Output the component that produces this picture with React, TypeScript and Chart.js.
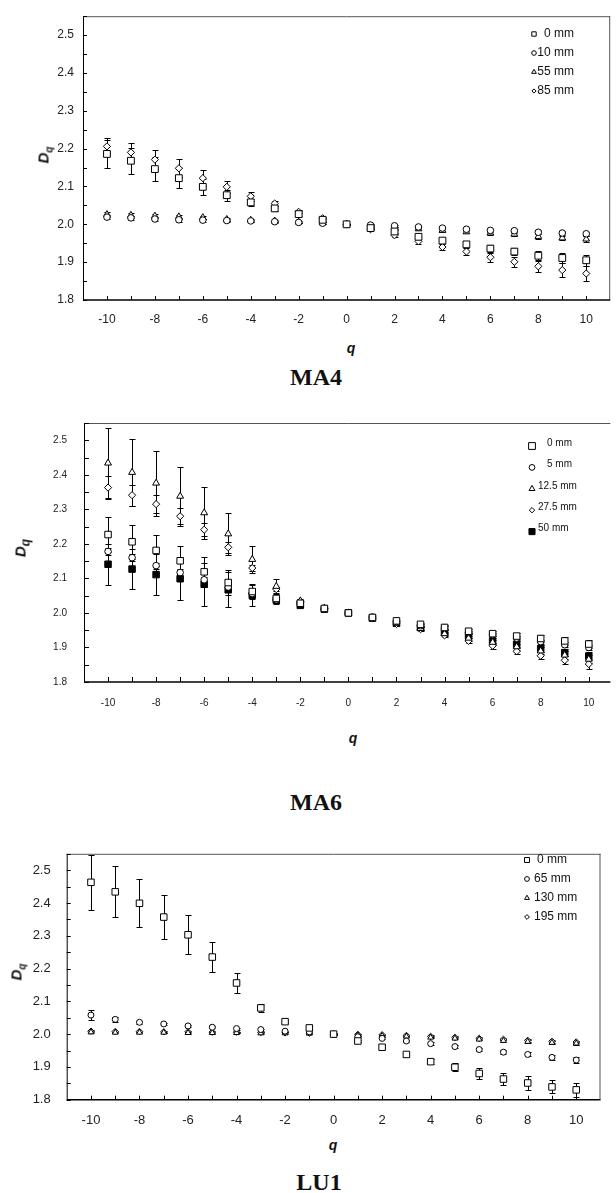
import React, { useEffect, useRef } from "react";
import { Chart, registerables } from "chart.js";

Chart.register(...registerables);

// ---------- data ----------
const Q = [-10, -9, -8, -7, -6, -5, -4, -3, -2, -1, 0, 1, 2, 3, 4, 5, 6, 7, 8, 9, 10];
const X_TICKS = [-10, -8, -6, -4, -2, 0, 2, 4, 6, 8, 10];
const Y_TICKS = [1.8, 1.9, 2.0, 2.1, 2.2, 2.3, 2.4, 2.5];

// MA4
const MA4_LABELS = ["0 mm", "10 mm", "55 mm", "85 mm"];
const MA4_0MM = [2.186, 2.168, 2.146, 2.122, 2.099, 2.077, 2.058, 2.042, 2.027, 2.012, 2.0, 1.99, 1.981, 1.967, 1.957, 1.947, 1.936, 1.928, 1.917, 1.911, 1.905];
const MA4_0MM_ERR = [0.038, 0.035, 0.031, 0.026, 0.021, 0.015, 0.01, 0.006, 0.004, 0.003, 0.002, 0.003, 0.004, 0.006, 0.007, 0.008, 0.009, 0.01, 0.012, 0.013, 0.014];
const MA4_10MM = [2.019, 2.017, 2.014, 2.012, 2.011, 2.01, 2.009, 2.007, 2.005, 2.003, 2.0, 1.998, 1.996, 1.993, 1.99, 1.987, 1.984, 1.983, 1.979, 1.977, 1.975];
const MA4_10MM_ERR = [0.006, 0.006, 0.005, 0.005, 0.004, 0.004, 0.003, 0.003, 0.002, 0.002, 0.001, 0.002, 0.002, 0.003, 0.003, 0.004, 0.004, 0.005, 0.005, 0.006, 0.006];
const MA4_55MM = [2.026, 2.024, 2.022, 2.02, 2.018, 2.013, 2.011, 2.009, 2.006, 2.004, 2.0, 1.995, 1.99, 1.988, 1.984, 1.98, 1.977, 1.974, 1.968, 1.964, 1.961];
const MA4_55MM_ERR = [0.007, 0.006, 0.006, 0.005, 0.005, 0.004, 0.004, 0.003, 0.003, 0.002, 0.001, 0.002, 0.003, 0.003, 0.004, 0.004, 0.005, 0.005, 0.006, 0.006, 0.007];
const MA4_85MM = [2.206, 2.19, 2.171, 2.148, 2.122, 2.099, 2.074, 2.055, 2.033, 2.016, 2.0, 1.987, 1.971, 1.955, 1.94, 1.928, 1.913, 1.901, 1.889, 1.879, 1.87];
const MA4_85MM_ERR = [0.022, 0.026, 0.025, 0.024, 0.022, 0.016, 0.012, 0.007, 0.004, 0.003, 0.002, 0.003, 0.004, 0.006, 0.008, 0.01, 0.012, 0.013, 0.015, 0.018, 0.021];

// MA6
const MA6_LABELS = ["0 mm", "5 mm", "12.5 mm", "27.5 mm", "50 mm"];
const MA6_0MM = [2.227, 2.206, 2.181, 2.151, 2.119, 2.088, 2.062, 2.042, 2.028, 2.013, 2.0, 1.987, 1.977, 1.967, 1.958, 1.947, 1.94, 1.933, 1.926, 1.919, 1.91];
const MA6_0MM_ERR = [0.051, 0.049, 0.044, 0.043, 0.043, 0.037, 0.023, 0.012, 0.006, 0.004, 0.002, 0.003, 0.004, 0.005, 0.006, 0.007, 0.008, 0.009, 0.01, 0.011, 0.012];
const MA6_5MM = [2.178, 2.16, 2.137, 2.117, 2.096, 2.075, 2.056, 2.038, 2.026, 2.012, 2.0, 1.988, 1.975, 1.963, 1.957, 1.944, 1.937, 1.927, 1.917, 1.908, 1.9];
const MA6_5MM_ERR = [0.01, 0.01, 0.009, 0.009, 0.008, 0.007, 0.006, 0.005, 0.004, 0.003, 0.002, 0.003, 0.003, 0.004, 0.004, 0.005, 0.005, 0.006, 0.006, 0.007, 0.007];
const MA6_12_5MM = [2.434, 2.407, 2.376, 2.338, 2.29, 2.229, 2.155, 2.077, 2.035, 2.014, 2.0, 1.985, 1.97, 1.955, 1.94, 1.927, 1.915, 1.902, 1.89, 1.878, 1.866];
const MA6_12_5MM_ERR = [0.102, 0.097, 0.094, 0.085, 0.076, 0.061, 0.039, 0.02, 0.006, 0.004, 0.002, 0.003, 0.004, 0.005, 0.006, 0.007, 0.008, 0.009, 0.01, 0.011, 0.012];
const MA6_27_5MM = [2.363, 2.341, 2.315, 2.28, 2.241, 2.19, 2.13, 2.069, 2.033, 2.013, 2.0, 1.985, 1.968, 1.953, 1.935, 1.919, 1.905, 1.889, 1.876, 1.863, 1.852];
const MA6_27_5MM_ERR = [0.033, 0.03, 0.026, 0.023, 0.018, 0.015, 0.008, 0.006, 0.004, 0.003, 0.002, 0.003, 0.004, 0.005, 0.006, 0.007, 0.008, 0.009, 0.01, 0.012, 0.014];
const MA6_50MM = [2.141, 2.127, 2.111, 2.099, 2.083, 2.067, 2.051, 2.037, 2.022, 2.011, 2.0, 1.985, 1.97, 1.958, 1.946, 1.934, 1.919, 1.909, 1.897, 1.885, 1.875];
const MA6_50MM_ERR = [0.059, 0.059, 0.06, 0.062, 0.062, 0.051, 0.031, 0.012, 0.006, 0.004, 0.002, 0.003, 0.004, 0.005, 0.006, 0.007, 0.008, 0.009, 0.01, 0.011, 0.012];

// LU1
const LU1_LABELS = ["0 mm", "65 mm", "130 mm", "195 mm"];
const LU1_0MM = [2.463, 2.434, 2.399, 2.357, 2.303, 2.235, 2.156, 2.08, 2.038, 2.019, 2.0, 1.979, 1.96, 1.938, 1.916, 1.899, 1.88, 1.863, 1.851, 1.839, 1.83];
const LU1_0MM_ERR = [0.083, 0.078, 0.073, 0.067, 0.06, 0.047, 0.03, 0.011, 0.004, 0.003, 0.002, 0.003, 0.004, 0.005, 0.008, 0.012, 0.016, 0.018, 0.02, 0.02, 0.022];
const LU1_65MM = [2.058, 2.045, 2.036, 2.031, 2.025, 2.021, 2.017, 2.014, 2.009, 2.007, 2.0, 1.992, 1.987, 1.979, 1.971, 1.962, 1.953, 1.945, 1.938, 1.929, 1.921];
const LU1_65MM_ERR = [0.015, 0.007, 0.005, 0.004, 0.004, 0.003, 0.003, 0.003, 0.002, 0.002, 0.002, 0.002, 0.003, 0.003, 0.004, 0.005, 0.005, 0.006, 0.006, 0.007, 0.008];
const LU1_130MM = [2.006, 2.005, 2.005, 2.005, 2.004, 2.004, 2.004, 2.003, 2.003, 2.002, 2.0, 1.997, 1.995, 1.993, 1.99, 1.987, 1.984, 1.98, 1.977, 1.974, 1.972];
const LU1_130MM_ERR = [0.003, 0.003, 0.003, 0.003, 0.003, 0.003, 0.002, 0.002, 0.002, 0.002, 0.001, 0.002, 0.002, 0.002, 0.003, 0.003, 0.003, 0.003, 0.004, 0.004, 0.004];
const LU1_195MM = [2.009, 2.008, 2.008, 2.007, 2.007, 2.006, 2.006, 2.005, 2.004, 2.003, 2.0, 1.999, 1.998, 1.996, 1.993, 1.99, 1.987, 1.984, 1.981, 1.978, 1.976];
const LU1_195MM_ERR = [0.003, 0.003, 0.003, 0.003, 0.003, 0.003, 0.002, 0.002, 0.002, 0.002, 0.001, 0.002, 0.002, 0.002, 0.003, 0.003, 0.003, 0.003, 0.004, 0.004, 0.004];

// ---------- styling ----------
const SANS = "'Liberation Sans', Arial, sans-serif";
const SERIF = "'Liberation Serif', 'Times New Roman', serif";

function drawShape(ctx: CanvasRenderingContext2D, shape: string, x: number, y: number, r: number, filled: boolean) {
  ctx.beginPath();
  if (shape === "rect") {
    const s = r * Math.SQRT1_2;
    ctx.rect(x - s, y - s, 2 * s, 2 * s);
  } else if (shape === "circle") {
    ctx.arc(x, y, r, 0, Math.PI * 2);
  } else if (shape === "triangle") {
    ctx.moveTo(x, y - r);
    ctx.lineTo(x + r * 0.866, y + r * 0.5);
    ctx.lineTo(x - r * 0.866, y + r * 0.5);
    ctx.closePath();
  } else {
    ctx.moveTo(x, y - r);
    ctx.lineTo(x + r, y);
    ctx.lineTo(x, y + r);
    ctx.lineTo(x - r, y);
    ctx.closePath();
  }
  ctx.fillStyle = filled ? "#000" : "#fff";
  ctx.fill();
  ctx.strokeStyle = "#000";
  ctx.lineWidth = 1;
  ctx.stroke();
}

const decorPlugin = {
  id: "decor",
  beforeDatasetsDraw(chart: any, _args: any, opts: any) {
    const { ctx, chartArea: ca, scales } = chart;
    const x = scales.x;
    const y = scales.y;
    ctx.save();
    // frame
    ctx.lineWidth = 1;
    ctx.strokeStyle = "#555";
    ctx.beginPath();
    ctx.moveTo(ca.left, ca.top + 0.5);
    ctx.lineTo(ca.right, ca.top + 0.5);
    if (opts.rightBorder) {
      ctx.moveTo(ca.right - 0.5, ca.top);
      ctx.lineTo(ca.right - 0.5, ca.bottom);
    }
    ctx.stroke();
    ctx.strokeStyle = "#000";
    ctx.beginPath();
    ctx.moveTo(ca.left + 0.5, ca.top);
    ctx.lineTo(ca.left + 0.5, ca.bottom);
    ctx.stroke();
    ctx.lineWidth = 1.6;
    ctx.beginPath();
    ctx.moveTo(ca.left, ca.bottom);
    ctx.lineTo(ca.right, ca.bottom);
    ctx.stroke();
    // inner ticks
    ctx.lineWidth = 1;
    ctx.beginPath();
    for (let v = Math.ceil(x.min); v <= Math.floor(x.max); v++) {
      const px = Math.round(x.getPixelForValue(v)) + 0.5;
      if (px <= ca.left + 1 || px >= ca.right - 1) continue;
      ctx.moveTo(px, ca.bottom);
      ctx.lineTo(px, ca.bottom - opts.tickLen);
    }
    for (let k = 0; k <= 15; k++) {
      const v = 1.8 + k * 0.05;
      if (v > y.max) break;
      const py = Math.round(y.getPixelForValue(v)) + 0.5;
      ctx.moveTo(ca.left, py);
      ctx.lineTo(ca.left + opts.tickLen, py);
    }
    ctx.stroke();
    // error bars
    ctx.strokeStyle = "#000";
    ctx.lineWidth = 1;
    chart.data.datasets.forEach((ds: any) => {
      if (!ds.err) return;
      ds.data.forEach((p: any, i: number) => {
        const e = ds.err[i];
        if (!e) return;
        const px = Math.round(x.getPixelForValue(p.x)) + 0.5;
        const y1 = Math.round(y.getPixelForValue(p.y + e)) + 0.5;
        const y2 = Math.round(y.getPixelForValue(p.y - e)) + 0.5;
        ctx.beginPath();
        ctx.moveTo(px, y1);
        ctx.lineTo(px, y2);
        ctx.moveTo(px - 3, y1);
        ctx.lineTo(px + 3, y1);
        ctx.moveTo(px - 3, y2);
        ctx.lineTo(px + 3, y2);
        ctx.stroke();
      });
    });
    ctx.restore();
  },
  afterDatasetsDraw(chart: any, _args: any, opts: any) {
    const { ctx } = chart;
    const lg = opts.legend;
    ctx.save();
    chart.data.datasets.forEach((ds: any, i: number) => {
      const cy = lg.y0 + i * lg.dy;
      drawShape(ctx, ds.pointStyle === "rectRot" ? "diamond" : ds.pointStyle, lg.mx, cy, lg.mr[i], ds.pointBackgroundColor === "#000");
      ctx.fillStyle = "#111";
      ctx.font = `${lg.font}px ${SANS}`;
      ctx.textBaseline = "middle";
      ctx.textAlign = lg.align;
      const dx = lg.dx ? lg.dx[i] : 0;
      ctx.fillText(ds.label, lg.tx + dx, cy + lg.tdy);
    });
    ctx.restore();
  },
};

type Series = { label: string; values: number[]; err: number[]; shape: string; filled?: boolean; r: number };

function Panel({ cfg }: { cfg: any }) {
  const ref = useRef<HTMLCanvasElement>(null);
  useEffect(() => {
    const chart = new Chart(ref.current as HTMLCanvasElement, {
      type: "scatter",
      data: {
        datasets: cfg.series.map((s: Series) => ({
          label: s.label,
          data: Q.map((q, i) => ({ x: q, y: s.values[i] })),
          err: s.err,
          pointStyle: s.shape,
          pointRadius: s.r,
          pointHoverRadius: s.r,
          pointBackgroundColor: s.filled ? "#000" : "#fff",
          pointBorderColor: "#000",
          pointBorderWidth: 1,
          showLine: false,
        })),
      } as any,
      options: {
        responsive: false,
        animation: false,
        events: [],
        layout: { padding: { left: 0, top: cfg.padTop, right: cfg.padRight, bottom: 0 } },
        plugins: {
          legend: { display: false },
          tooltip: { enabled: false },
          decor: { rightBorder: cfg.rightBorder, tickLen: cfg.tickLen, legend: cfg.legend },
        } as any,
        scales: {
          x: {
            type: "linear",
            min: cfg.xMin,
            max: cfg.xMax,
            afterFit: (s: any) => { s.height = cfg.xAxisH; },
            afterBuildTicks: (s: any) => { s.ticks = X_TICKS.map((v) => ({ value: v })); },
            grid: { display: false, drawTicks: false },
            border: { display: false },
            ticks: {
              padding: cfg.xPad,
              autoSkip: false,
              maxRotation: 0,
              color: "#222",
              font: { family: SANS, size: cfg.tickFont },
              callback: (v: any) => String(v),
            },
          },
          y: {
            type: "linear",
            min: 1.8,
            max: 2.55,
            afterFit: (s: any) => { s.width = cfg.yAxisW; },
            afterBuildTicks: (s: any) => { s.ticks = Y_TICKS.map((v) => ({ value: v })); },
            grid: { display: false, drawTicks: false },
            border: { display: false },
            ticks: {
              padding: cfg.yPad,
              color: "#222",
              font: { family: SANS, size: cfg.tickFont },
              callback: (v: any) => Number(v).toFixed(1),
            },
          },
        },
      } as any,
      plugins: [decorPlugin as any],
    });
    return () => chart.destroy();
  }, []);
  return (
    <canvas
      ref={ref}
      width={616}
      height={cfg.h}
      style={{ position: "absolute", left: 0, top: cfg.top, width: 616, height: cfg.h }}
    />
  );
}

function Txt({ x, y, children, style }: any) {
  return (
    <div
      style={{
        position: "absolute",
        left: x,
        top: y,
        transform: "translate(-50%, -50%)",
        whiteSpace: "nowrap",
        lineHeight: 1,
        color: "#111",
        ...style,
      }}
    >
      {children}
    </div>
  );
}

function YTitle({ x, y, size, subSize }: any) {
  return (
    <div
      style={{
        position: "absolute",
        left: x,
        top: y,
        transform: "translate(-50%, -50%) rotate(-90deg)",
        whiteSpace: "nowrap",
        lineHeight: 1,
        fontFamily: SANS,
        fontWeight: "bold",
        fontStyle: "italic",
        fontSize: size,
        color: "#111",
      }}
    >
      D<sub style={{ fontSize: subSize, verticalAlign: "sub" }}>q</sub>
    </div>
  );
}

export default function App() {
  const p1 = {
    top: 0, h: 335, padTop: 8, padRight: 2, yAxisW: 83, xAxisH: 35, xMin: -11, xMax: 11,
    xPad: 12, yPad: 9, tickFont: 12, rightBorder: true, tickLen: 4,
    legend: { mx: 534, y0: 34, dy: 19, mr: [3.1, 2.3, 2.7, 2.1], tx: 574, tdy: 0, align: "right", font: 12 },
    series: [
      { label: MA4_LABELS[0], values: MA4_0MM, err: MA4_0MM_ERR, shape: "rect", r: 4.8 },
      { label: MA4_LABELS[1], values: MA4_10MM, err: MA4_10MM_ERR, shape: "circle", r: 3.3 },
      { label: MA4_LABELS[2], values: MA4_55MM, err: MA4_55MM_ERR, shape: "triangle", r: 3.9 },
      { label: MA4_LABELS[3], values: MA4_85MM, err: MA4_85MM_ERR, shape: "rectRot", r: 3.6 },
    ],
  };
  const p2 = {
    top: 400, h: 330, padTop: 12, padRight: 0, yAxisW: 84, xAxisH: 48, xMin: -11, xMax: 10.9,
    xPad: 15, yPad: 17, tickFont: 10, rightBorder: false, tickLen: 5,
    legend: { mx: 532, y0: 46, dy: 21.4, mr: [4.8, 2.9, 3.4, 2.7, 4.3], tx: 538, dx: [9, 9, 0, 0, 0], tdy: -3, align: "left", font: 10 },
    series: [
      { label: MA6_LABELS[0], values: MA6_0MM, err: MA6_0MM_ERR, shape: "rect", r: 4.6 },
      { label: MA6_LABELS[1], values: MA6_5MM, err: MA6_5MM_ERR, shape: "circle", r: 3.3 },
      { label: MA6_LABELS[2], values: MA6_12_5MM, err: MA6_12_5MM_ERR, shape: "triangle", r: 4 },
      { label: MA6_LABELS[3], values: MA6_27_5MM, err: MA6_27_5MM_ERR, shape: "rectRot", r: 3.6 },
      { label: MA6_LABELS[4], values: MA6_50MM, err: MA6_50MM_ERR, shape: "rect", filled: true, r: 4.6 },
    ],
  };
  const p3 = {
    top: 830, h: 300, padTop: 9.5, padRight: 15.5, yAxisW: 66.7, xAxisH: 30.3, xMin: -11, xMax: 11,
    xPad: 13, yPad: 16, tickFont: 13, rightBorder: true, tickLen: 4,
    legend: { mx: 527, y0: 30, dy: 19, mr: [3.5, 2.4, 2.8, 2.4], tx: 534, dx: [3, 0, 0, 0], tdy: 0, align: "left", font: 12 },
    series: [
      { label: LU1_LABELS[0], values: LU1_0MM, err: LU1_0MM_ERR, shape: "rect", r: 4.6 },
      { label: LU1_LABELS[1], values: LU1_65MM, err: LU1_65MM_ERR, shape: "circle", r: 3 },
      { label: LU1_LABELS[2], values: LU1_130MM, err: LU1_130MM_ERR, shape: "triangle", r: 3.4 },
      { label: LU1_LABELS[3], values: LU1_195MM, err: LU1_195MM_ERR, shape: "rectRot", r: 3.2 },
    ],
  };
  const qStyle = { fontFamily: SANS, fontWeight: "bold", fontStyle: "italic", fontSize: 14 };
  const tStyle = { fontFamily: SERIF, fontWeight: "bold", fontSize: 24 };
  return (
    <div style={{ position: "absolute", left: 0, top: 0, width: 616, height: 1193, background: "#fff", overflow: "hidden" }}>
      <Panel cfg={p1} />
      <Panel cfg={p2} />
      <Panel cfg={p3} />
      <YTitle x={45} y={155} size={15} subSize={10} />
      <YTitle x={22} y={548} size={15} subSize={12} />
      <YTitle x={18} y={972} size={15} subSize={10} />
      <Txt x={351} y={348} style={qStyle}>q</Txt>
      <Txt x={316} y={377} style={tStyle}>MA4</Txt>
      <Txt x={353} y={738} style={qStyle}>q</Txt>
      <Txt x={316} y={802} style={tStyle}>MA6</Txt>
      <Txt x={333} y={1145} style={qStyle}>q</Txt>
      <Txt x={319} y={1182} style={tStyle}>LU1</Txt>
    </div>
  );
}
